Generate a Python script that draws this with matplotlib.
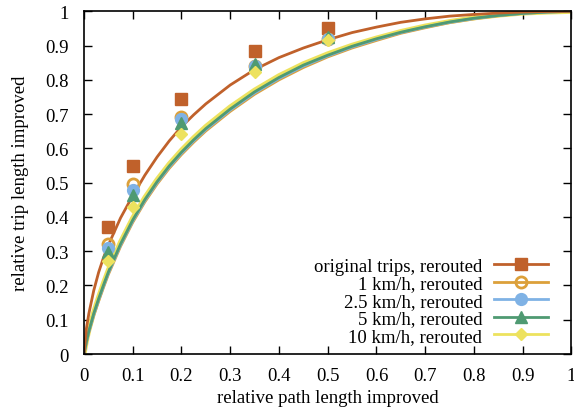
import matplotlib
matplotlib.use("Agg")
import matplotlib.pyplot as plt

plt.rcParams["font.family"] = ["Liberation Serif", "DejaVu Serif"]

# measured points
px = [0.05, 0.1, 0.2, 0.35, 0.5]
pts_orig = [0.37, 0.548, 0.745, 0.885, 0.95]
pts_1 = [0.32, 0.495, 0.692, 0.840, 0.918]
pts_25 = [0.31, 0.480, 0.685, 0.840, 0.920]
pts_5 = [0.298, 0.465, 0.673, 0.845, 0.925]
pts_10 = [0.27, 0.430, 0.642, 0.822, 0.915]

# fitted curves
cx = [0, 0.005, 0.01, 0.02, 0.03, 0.04, 0.05, 0.075, 0.1, 0.125, 0.15, 0.175,
      0.2, 0.225, 0.25, 0.3, 0.35, 0.4, 0.45, 0.5, 0.55, 0.6, 0.65, 0.7, 0.75,
      0.8, 0.85, 0.9, 0.95, 1.0]
fit_orig = [0, 0.075, 0.118, 0.185, 0.238, 0.281, 0.318, 0.397, 0.462, 0.522,
            0.575, 0.622, 0.663, 0.698, 0.730, 0.785, 0.830, 0.865, 0.893, 0.917,
            0.938, 0.954, 0.968, 0.978, 0.986, 0.991, 0.995, 0.998, 0.9995, 1.0]
fit_1 = [0, 0.034, 0.063, 0.112, 0.154, 0.194, 0.232, 0.314, 0.384, 0.444,
         0.496, 0.542, 0.582, 0.618, 0.651, 0.708, 0.758, 0.800, 0.836, 0.867,
         0.893, 0.915, 0.936, 0.952, 0.967, 0.978, 0.987, 0.994, 0.998, 1.0]
fit_25 = [0, 0.035, 0.065, 0.115, 0.158, 0.198, 0.236, 0.318, 0.388, 0.448,
          0.500, 0.546, 0.586, 0.622, 0.655, 0.712, 0.762, 0.804, 0.840, 0.870,
          0.896, 0.918, 0.938, 0.954, 0.968, 0.979, 0.988, 0.994, 0.998, 1.0]
fit_5 = [0, 0.036, 0.067, 0.118, 0.161, 0.201, 0.239, 0.321, 0.391, 0.451,
         0.503, 0.549, 0.589, 0.625, 0.658, 0.715, 0.765, 0.807, 0.843, 0.872,
         0.898, 0.920, 0.939, 0.955, 0.969, 0.980, 0.988, 0.994, 0.998, 1.0]
fit_10 = [0, 0.038, 0.070, 0.122, 0.166, 0.207, 0.245, 0.327, 0.397, 0.457,
          0.509, 0.555, 0.595, 0.631, 0.664, 0.721, 0.770, 0.812, 0.847, 0.876,
          0.901, 0.922, 0.941, 0.957, 0.970, 0.981, 0.989, 0.995, 0.998, 1.0]

labels = ["original trips, rerouted", "1 km/h, rerouted", "2.5 km/h, rerouted",
          "5 km/h, rerouted", "10 km/h, rerouted"]
colors = ["#c0612b", "#dca03a", "#7fb2e5", "#4f9a72", "#ede25e"]
markers = ["s", "o", "o", "^", "D"]
mfaces = ["#c0612b", "none", "#7fb2e5", "#4f9a72", "#ede25e"]
msizes = [8, 8, 7.5, 8.5, 6.5]
widths = [2.0, 2.0, 2.0, 2.0, 3.6]

fig = plt.figure(figsize=(5.74, 4.14), dpi=100)
ax = fig.add_axes([0.1463, 0.1425, 0.8493, 0.8277])

series = [(pts_orig, fit_orig), (pts_1, fit_1), (pts_25, fit_25), (pts_5, fit_5), (pts_10, fit_10)]
# lower bundle first, yellow underneath so the thin ones stay visible
for i in [4, 1, 2, 3, 0]:
    ax.plot(cx, series[i][1], color=colors[i], lw=widths[i], zorder=2)
for i, (pts, fit) in enumerate(series):
    ax.plot(px, pts, ls="none", marker=markers[i], ms=msizes[i], color=colors[i],
            mfc=mfaces[i], mew=2 if markers[i] == "o" else 1, zorder=4)
    ax.plot([], [], color=colors[i], lw=2, marker=markers[i], ms=msizes[i],
            mfc=mfaces[i], mew=2 if markers[i] == "o" else 1, label=labels[i])

ax.set_xlim(0, 1)
ax.set_ylim(0, 1)
ax.set_xticks([i / 10 for i in range(11)])
ax.set_yticks([i / 10 for i in range(11)])
ax.set_xticklabels(["0"] + [f"{i/10:.1f}" for i in range(1, 10)] + ["1"])
ax.set_yticklabels(["0"] + [f"{i/10:.1f}" for i in range(1, 10)] + ["1"])
ax.tick_params(direction="in", top=True, right=True, length=6, width=1,
               labelsize=13.5)
ax.tick_params(axis="x", pad=9)
ax.tick_params(axis="y", pad=11)
for s in ax.spines.values():
    s.set_linewidth(1.2)
ax.set_xlabel("relative path length improved", fontsize=13.5, labelpad=4)
ax.set_ylabel("relative trip length improved", fontsize=13.5, labelpad=12)

leg = ax.legend(loc="lower right", bbox_to_anchor=(0.971, 0.0), frameon=False,
                fontsize=13.5, markerfirst=False, handlelength=2.9,
                labelspacing=0.02, borderaxespad=0.1, handletextpad=0.6)

fig.savefig("out.png", dpi=100)
